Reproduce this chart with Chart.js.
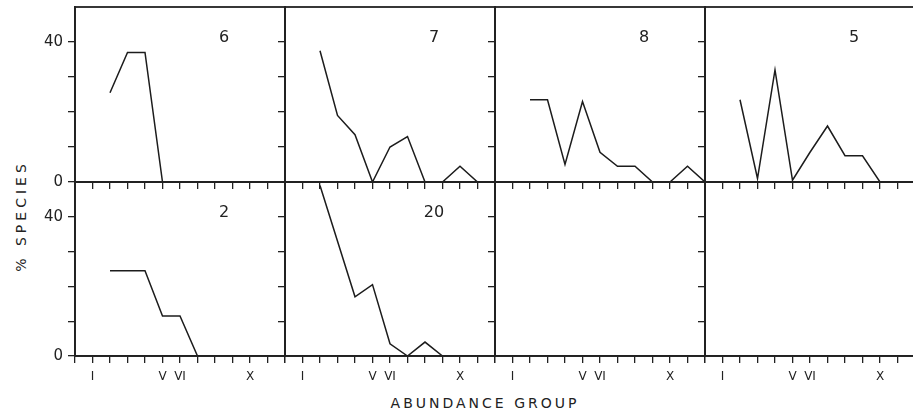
<!DOCTYPE html>
<html>
<head>
<meta charset="utf-8">
<script src="https://cdn.jsdelivr.net/npm/chart.js@4"></script>
<style>
  body { margin: 0; background: #fff; }
  #wrap { position: relative; width: 913px; height: 416px; overflow: hidden; background: #fff;
          font-family: "DejaVu Sans", sans-serif; color: #222; }
  #wrap canvas { position: absolute; }
  .ytitle { position: absolute; left: 21px; top: 216px; transform: translate(-50%, -50%) rotate(-90deg);
            font-size: 14px; letter-spacing: 4px; white-space: nowrap; }
  .xtitle { position: absolute; left: 485px; top: 403px; transform: translate(-50%, -50%);
            font-size: 14px; letter-spacing: 3px; white-space: nowrap; }
</style>
</head>
<body>
<div id="wrap">
  <div class="ytitle">% SPECIES</div>
  <div class="xtitle">ABUNDANCE GROUP</div>
</div>
<script>
// abundance groups I..XII, only some get a label
const groups = [1, 2, 3, 4, 5, 6, 7, 8, 9, 10, 11, 12];
const groupLabels = { 1: 'I', 5: 'V', 6: 'VI', 10: 'X' };
const yLabels = { 0: '0', 40: '40' };

// % species per abundance group, one array per panel (null = no point)
const site6  = [null, 25.5, 37, 37, 0, null, null, null, null, null, null, null];
const site7  = [null, 37.5, 19, 13.5, 0, 10, 13, 0, 0, 4.5, 0, null];
const site8  = [null, 23.5, 23.5, 5, 23, 8.5, 4.5, 4.5, 0, 0, 4.5, 0];
const site5  = [null, 23.5, 1, 32, 0.5, 8.5, 16, 7.5, 7.5, 0, null, null];
const site2  = [null, 24.5, 24.5, 24.5, 11.5, 11.5, 0, null, null, null, null, null];
const site20 = [null, 49, null, 17, 20.5, 3.5, 0, 4, 0, null, null, null];

const panelNames = ['6', '7', '8', '5', '2', '20', '', ''];
const panelData  = [site6, site7, site8, site5, site2, site20, [], []];

const colLeft = [75, 285, 495, 705];
const rowTop = [7, 182];
const rowBottom = [182, 356];
const panelW = 210;
const PAD = 4;
const ink = '#222';
const fam = '"DejaVu Sans", sans-serif';

// box round the plot area + the panel number
const frame = {
  id: 'frame',
  afterDraw(chart) {
    const a = chart.chartArea, ctx = chart.ctx;
    ctx.save();
    ctx.strokeStyle = ink;
    ctx.lineWidth = 1.8;
    ctx.strokeRect(a.left, a.top, a.right - a.left, a.bottom - a.top);
    const name = chart.options.plugins.frame.text;
    if (name) {
      ctx.fillStyle = ink;
      ctx.font = '16px ' + fam;
      ctx.textAlign = 'center';
      ctx.textBaseline = 'middle';
      ctx.fillText(name, a.left + 149, a.top + 31);
    }
    ctx.restore();
  }
};

// fixed axis sizes, and no extra room for half-labels at the ends
function fixSize(s, w, h) {
  if (w != null) s.width = w;
  if (h != null) s.height = h;
  s.paddingTop = 0;
  s.paddingBottom = 0;
  s.paddingLeft = 0;
  s.paddingRight = 0;
}

const wrap = document.getElementById('wrap');

panelData.forEach((series, i) => {
  const row = Math.floor(i / 4), col = i % 4;
  const yw = col === 0 ? 40 : 10;
  const xh = row === 1 ? 32 : 10;
  const H = rowBottom[row] - rowTop[row];

  const canvas = document.createElement('canvas');
  canvas.width = yw + panelW + PAD;
  canvas.height = PAD + H + xh;
  canvas.style.left = (colLeft[col] - yw) + 'px';
  canvas.style.top = (rowTop[row] - PAD) + 'px';
  wrap.appendChild(canvas);

  const points = [];
  series.forEach((v, k) => points.push({ x: groups[k], y: v }));

  new Chart(canvas.getContext('2d'), {
    type: 'line',
    data: {
      datasets: [{
        data: points,
        borderColor: '#1c1c1c',
        borderWidth: 1.5,
        pointRadius: 0,
        fill: false,
        tension: 0,
        spanGaps: true
      }]
    },
    options: {
      responsive: false,
      animation: false,
      events: [],
      layout: { padding: { top: PAD, right: PAD, left: 0, bottom: 0 }, autoPadding: false },
      plugins: {
        legend: { display: false },
        tooltip: { enabled: false },
        frame: { text: panelNames[i] }
      },
      scales: {
        x: {
          type: 'linear', min: 0, max: 12,
          afterFit: s => fixSize(s, null, xh),
          ticks: {
            stepSize: 1, autoSkip: false, maxRotation: 0,
            display: row === 1,
            callback: v => groupLabels[v] || '',
            font: { size: 12, family: fam }, color: ink, padding: 7
          },
          grid: { drawOnChartArea: false, drawTicks: true, tickLength: 7, color: ink, lineWidth: 1.3 },
          border: { display: true, color: ink, width: 1.8 }
        },
        y: {
          min: 0, max: 50,
          afterFit: s => fixSize(s, yw, null),
          ticks: {
            stepSize: 10,
            display: col === 0,
            callback: v => yLabels[v] || '',
            font: { size: 15, family: fam }, color: ink, padding: 5
          },
          grid: {
            drawOnChartArea: false, drawTicks: true, tickLength: 7, lineWidth: 1.3,
            color: c => (c.tick && c.tick.value === 50) ? 'rgba(0,0,0,0)' : ink
          },
          border: { display: true, color: ink, width: 1.8 }
        }
      }
    },
    plugins: [frame]
  });
});
</script>
</body>
</html>
